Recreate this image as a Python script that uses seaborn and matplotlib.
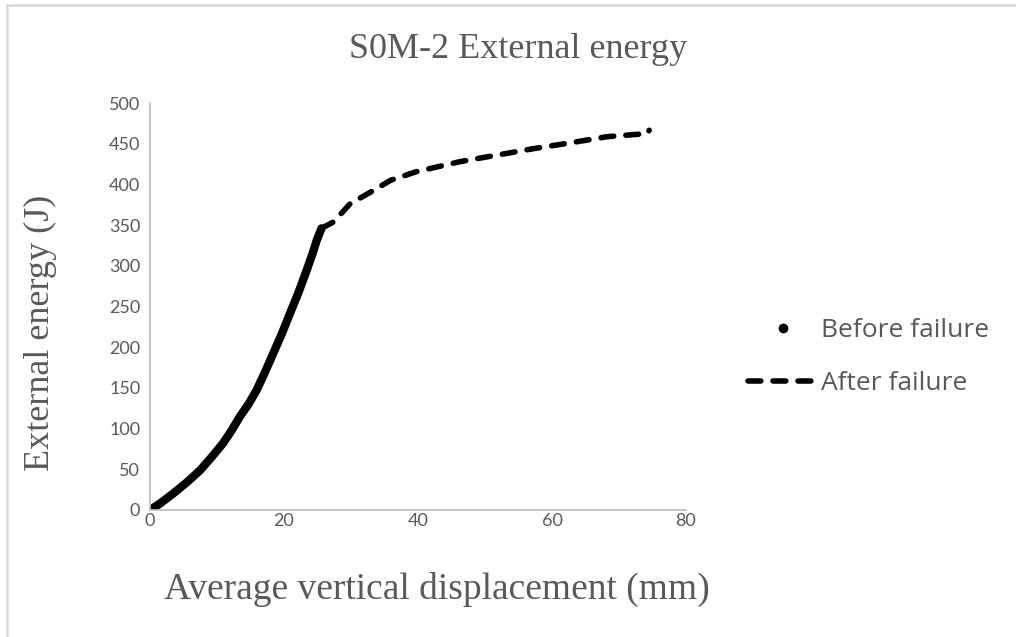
import matplotlib
matplotlib.use("Agg")
import matplotlib.pyplot as plt
from matplotlib.lines import Line2D
import seaborn as sns
import pandas as pd

# Before failure: displacement (mm) and external energy (J)
before_disp = [0.0, 1.5, 3.5, 5.5, 7.5, 9.2, 10.9, 12.2, 13.4, 14.7, 15.9, 17.2,
               18.4, 19.7, 20.9, 22.2, 23.4, 24.3, 24.9, 25.6]
before_energy = [0.0, 8.0, 20.5, 34.0, 49.0, 65.0, 82.0, 98.0, 114.6, 130.0, 147.0, 170.0,
                 192.5, 217.0, 241.6, 268.0, 294.8, 316.0, 331.7, 346.0]

# After failure
after_disp = [25.6, 27.4, 29.9, 32.6, 35.9, 39.7, 46.3, 51.8, 57.3, 62.7, 68.2, 74.3, 74.5]
after_energy = [346.0, 354.0, 376.5, 389.0, 405.0, 415.5, 428.0, 436.0, 444.0, 451.0,
                458.6, 462.5, 466.5]

x_ticks = [0, 20, 40, 60, 80]
y_ticks = [0, 50, 100, 150, 200, 250, 300, 350, 400, 450, 500]

title = "S0M-2 External energy"
x_label = "Average vertical displacement (mm)"
y_label = "External energy (J)"

sns.set_theme(style="white")
plt.rcParams["font.family"] = ["Lato", "DejaVu Sans"]

gray_text = "#595959"
axis_gray = "#bfbfbf"
dash_pattern = (0, (2.3, 2.2))

fig = plt.figure(figsize=(10.16, 6.37), dpi=100)
ax = fig.add_axes([150 / 1016, 1 - 510 / 637, (686 - 150) / 1016, (510 - 103) / 637])

df_before = pd.DataFrame({"disp": before_disp, "energy": before_energy})
df_after = pd.DataFrame({"disp": after_disp, "energy": after_energy})

sns.lineplot(data=df_before, x="disp", y="energy", ax=ax, color="black",
             linewidth=6.0, sort=False, estimator=None)
ax.lines[-1].set_solid_capstyle("round")
ax.lines[-1].set_solid_joinstyle("round")
sns.lineplot(data=df_after, x="disp", y="energy", ax=ax, color="black",
             linewidth=4.0, sort=False, estimator=None)
ax.lines[-1].set_linestyle(dash_pattern)
ax.lines[-1].set_dash_capstyle("round")
ax.lines[-1].set_dash_joinstyle("round")

ax.set_xlim(0, 80)
ax.set_ylim(0, 500)
ax.set_xticks(x_ticks)
ax.set_yticks(y_ticks)
ax.tick_params(axis="y", length=0, labelsize=13, colors=gray_text, pad=7)
ax.tick_params(axis="x", length=0, labelsize=13, colors=gray_text, pad=2)

for side in ["top", "right"]:
    ax.spines[side].set_visible(False)
for side in ["left", "bottom"]:
    ax.spines[side].set_color(axis_gray)
    ax.spines[side].set_linewidth(1.3)
ax.set_xlabel("")
ax.set_ylabel("")

serif = ["Liberation Serif", "DejaVu Serif"]
fig.text(437 / 1016, 1 - 589 / 637, x_label, ha="center", va="center",
         fontsize=27, color=gray_text, family=serif)
fig.text(40 / 1016, 1 - 333 / 637, y_label, ha="center", va="center", rotation=90,
         fontsize=26, color=gray_text, family=serif)
fig.text(518 / 1016, 1 - 50 / 637, title, ha="center", va="center",
         fontsize=26, color=gray_text, family=serif)

handles = [
    Line2D([], [], color="black", marker="o", linestyle="none", markersize=6),
    Line2D([], [], color="black", linewidth=4.0, linestyle=dash_pattern,
           dash_capstyle="round"),
]
leg = fig.legend(handles, ["Before failure", "After failure"],
                 loc="center left", bbox_to_anchor=(724 / 1016, 1 - 357 / 637),
                 frameon=False, handlelength=2.65, handletextpad=0.12,
                 labelspacing=1.05, labelcolor=gray_text,
                 prop={"family": ["Open Sans", "DejaVu Sans"], "size": 19})

# Chart-area border along the visible top and left edges
fig.add_artist(Line2D([7 / 1016, 7 / 1016], [0, 1 - 5 / 637], transform=fig.transFigure,
                      color="#d9d9d9", linewidth=1.8))
fig.add_artist(Line2D([7 / 1016, 1], [1 - 5 / 637, 1 - 5 / 637], transform=fig.transFigure,
                      color="#d9d9d9", linewidth=1.8))

fig.savefig("out.png", dpi=100)
